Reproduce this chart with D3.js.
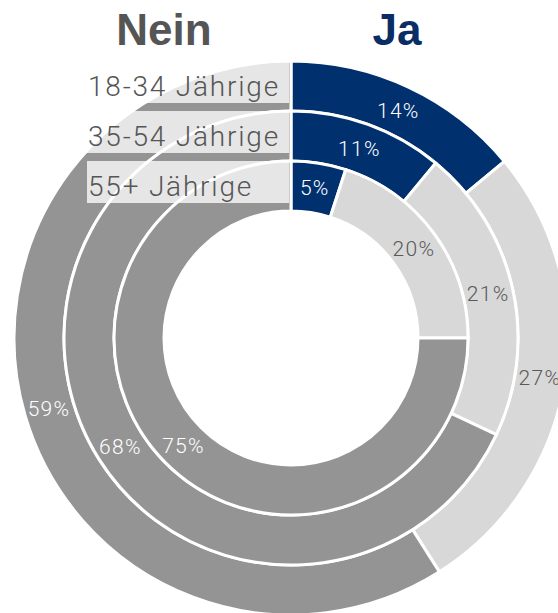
<!DOCTYPE html>
<html><head><meta charset="utf-8">
<script src="https://cdn.jsdelivr.net/npm/d3@7"></script>
<style>
html,body{margin:0;padding:0;background:#fff;}
svg{display:block;}
</style></head>
<body>
<svg id="chart" width="558" height="613"></svg>
<script>
// Data
const groups = ["18-34 Jährige", "35-54 Jährige", "55+ Jährige"];
const answers = ["Ja", "Weiß nicht", "Nein"];
const jaValues = [14, 11, 5];
const unsureValues = [27, 21, 20];
const neinValues = [59, 68, 75];
const titles = ["Nein", "Ja"];

const colors = {"Ja": "#00306e", "Weiß nicht": "#d8d8d8", "Nein": "#949494"};
const labelColors = {"Ja": "#ffffff", "Weiß nicht": "#595959", "Nein": "#ffffff"};

const svg = d3.select("#chart");
const cx = 291, cy = 338;
const outerR = 277, innerR = 127;

const ringScale = d3.scaleBand().domain(groups).range([innerR, outerR]).paddingInner(0);
const ringOrder = groups.slice().reverse();
ringScale.domain(ringOrder);

const g = svg.append("g").attr("transform", `translate(${cx},${cy})`);

const pie = d3.pie().sort(null).value(d => d.value);
const fmt = v => v + "%";
const font = "Roboto, 'Helvetica Neue', 'Liberation Sans', Arial, sans-serif";

groups.forEach((grp, i) => {
  const vals = [jaValues[i], unsureValues[i], neinValues[i]];
  const data = answers.map((a, k) => ({answer: a, value: vals[k]}));
  const r0 = ringScale(grp);
  const r1 = r0 + ringScale.bandwidth();
  const arc = d3.arc().innerRadius(r0).outerRadius(r1);
  const arcs = pie(data);
  g.selectAll(null).data(arcs).enter().append("path")
    .attr("d", arc)
    .attr("fill", d => colors[d.data.answer])
    .attr("stroke", "#fff")
    .attr("stroke-width", 3)
    .attr("stroke-linejoin", "miter");
  g.selectAll(null).data(arcs).enter().append("text")
    .attr("transform", d => `translate(${arc.centroid(d)})`)
    .attr("text-anchor", "middle")
    .attr("dy", "0.36em")
    .attr("font-family", font)
    .attr("font-weight", 300)
    .attr("font-size", 21)
    .attr("letter-spacing", 1.3)
    .attr("fill", d => labelColors[d.data.answer])
    .text(d => fmt(d.data.value));
});

// group label boxes
groups.forEach((grp, i) => {
  const r1 = ringScale(grp) + ringScale.bandwidth();
  const top = cy - r1;
  svg.append("rect")
    .attr("x", 87).attr("y", top)
    .attr("width", cx - 2 - 87).attr("height", 42)
    .attr("fill", "#fff").attr("fill-opacity", 0.77);
  svg.append("text")
    .attr("x", 88).attr("y", top + 35)
    .attr("font-family", font)
    .attr("font-weight", 300)
    .attr("font-size", 28)
    .attr("letter-spacing", 1.8)
    .attr("fill", "#555")
    .text(grp);
});

// titles
svg.append("text").attr("x", 164).attr("y", 45)
  .attr("text-anchor", "middle")
  .attr("font-family", "'Liberation Sans', Arial, sans-serif")
  .attr("font-weight", "bold").attr("font-size", 44)
  .attr("fill", "#555").text(titles[0]);
svg.append("text").attr("x", 397).attr("y", 45)
  .attr("text-anchor", "middle")
  .attr("font-family", "'Liberation Sans', Arial, sans-serif")
  .attr("font-weight", "bold").attr("font-size", 44)
  .attr("fill", "#0b2d66").text(titles[1]);
</script>
</body></html>
